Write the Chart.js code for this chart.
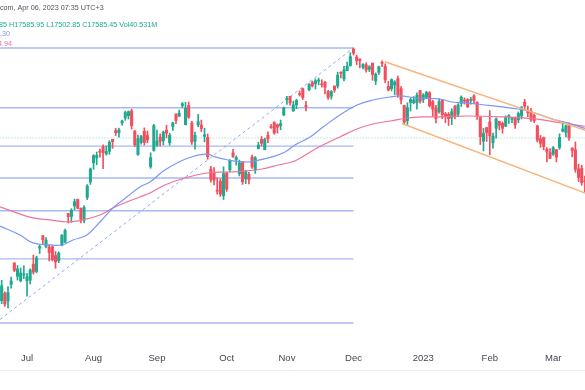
<!DOCTYPE html>
<html><head><meta charset="utf-8">
<script src="https://cdn.jsdelivr.net/npm/chart.js@4.4.0/dist/chart.umd.min.js"></script>
<style>html,body{margin:0;padding:0;background:#fff;overflow:hidden}#wrap{width:585px;height:390px;position:relative}</style>
</head><body><div id="wrap"><canvas id="c" width="585" height="390"></canvas></div>
<script>
// Nifty 50 daily candles, index 0 = 1 Jul 2022 (trading-day index)
const firstIndex = -9;
const opens = [15334,15455,15545,15451,15657,15926,15757,15701,15774,
15703,15710,15909,15818,16113,16273,16136,16127,16131,16018,15954,16151,16187,16562,16523,16662,16749,16631,16475,16774,16983,
17243,17310,17403,17463,17365,17401,17566,17690,17659,17797,17868,17899,17967,17683,17357,17525,17679,17619,17188,17414,
17486,17598,17546,17695,17519,17748,17923,17891,18044,17771,18046,17796,17540,17770,17766,17609,17593,17156,17111,16871,16993,16799,
17102,17147,17379,17287,17094,17256,17026,17087,17323,17144,17438,17568,17423,17622,17736,17808,17771,17756,17910,
18130,18177,17968,18054,18211,18288,18044,18272,18376,18362,18398,18358,18382,18246,18179,18326,18326,18528,18430,18552,18625,
18871,18753,18719,18600,18638,18570,18662,18402,18525,18672,18614,18320,18288,18341,18435,18288,18045,17830,18089,18085,18084,18259,
18131,18163,18230,18101,18009,17953,18121,17925,17920,17867,18033,17922,18075,18120,18131,18118,18183,18094,17877,17541,17731,
17812,17517,17721,17818,17790,17750,17885,17847,17859,17840,17897,18094,17974,17965,17905,17755,17574,17591,17429,17383,
17360,17421,17452,17680,17665,17773,17443,17421,17160,17166,16994];
const highs = [15382,15707,15565,15628,15749,15927,15892,15861,15890,
15793,15852,16025,16011,16150,16275,16248,16158,16140,16070,16066,16288,16360,16563,16626,16753,16752,16636,16667,16947,17172,
17356,17391,17431,17490,17474,17548,17567,17720,17724,17839,17965,17968,17992,17690,17625,17623,17727,17685,17380,17777,
17696,17643,17684,17764,17650,17807,17925,17980,18088,18091,18096,17820,17667,17919,17838,17722,17642,17196,17176,17037,17027,17188,
17114,17287,17428,17337,17280,17261,17142,17112,17348,17328,17527,17607,17584,17670,17777,17811,17783,17838,18023,
18175,18178,18107,18135,18255,18297,18104,18362,18399,18427,18442,18417,18394,18262,18261,18326,18529,18534,18614,18678,18816,
18888,18781,18728,18654,18668,18625,18664,18518,18617,18696,18652,18394,18431,18404,18473,18318,18050,18084,18150,18174,18229,18265,
18215,18251,18243,18120,18047,18141,18128,17944,17945,17999,18049,18072,18183,18155,18142,18162,18201,18096,17884,17721,17736,
17972,17653,17870,17823,17811,17898,17916,17876,17880,17954,18034,18134,18035,18004,17924,17766,17621,17599,17451,17440,
17467,17428,17644,17799,17766,17799,17452,17530,17224,17211,17062];
const lows = [15183,15419,15385,15367,15608,15815,15710,15688,15728,
15511,15661,15785,15800,16045,16157,16115,15950,15950,15858,15928,16143,16187,16439,16447,16611,16623,16439,16438,16746,16949,
17154,17216,17319,17162,17348,17359,17442,17620,17597,17764,17833,17852,17710,17467,17345,17499,17487,17519,17167,17401,
17468,17476,17488,17587,17485,17691,17786,17889,18015,17771,17861,17497,17429,17744,17675,17532,17291,16978,16942,16820,16788,16748,
16855,17117,17315,17210,17064,16950,16960,16956,17165,17098,17434,17472,17421,17520,17718,17637,17654,17701,17899,
18060,18049,17959,18000,18180,18131,17969,18259,18311,18282,18344,18310,18210,18133,18136,18234,18295,18445,18402,18552,18616,
18782,18639,18591,18577,18528,18536,18410,18346,18495,18611,18374,18255,18255,18202,18162,18068,17779,17775,17967,18068,17993,18080,
18087,18149,18020,17892,17796,17936,17856,17800,17761,17774,17853,17886,18032,18064,18016,18063,18078,17846,17494,17406,17537,
17353,17445,17584,17698,17652,17744,17790,17801,17719,17800,17853,18000,17884,17819,17800,17529,17455,17421,17255,17299,
17345,17255,17427,17671,17602,17553,17325,17113,16987,16938,16850];
const closes = [15350,15638,15413,15557,15699,15832,15850,15799,15780,
15752,15835,15810,15990,16133,16221,16216,16058,15967,15938,16049,16279,16341,16521,16606,16719,16631,16484,16642,16930,17158,
17340,17345,17388,17382,17398,17525,17535,17659,17698,17825,17944,17957,17758,17491,17577,17605,17522,17559,17313,17759,
17543,17539,17666,17655,17624,17798,17833,17936,18070,18004,17877,17531,17622,17816,17718,17630,17327,17016,17007,16858,16818,17094,
16887,17274,17331,17315,17241,16984,17124,17014,17186,17312,17486,17512,17564,17576,17731,17656,17737,17787,18012,
18145,18083,18053,18117,18203,18157,18028,18350,18329,18403,18410,18344,18308,18160,18245,18267,18484,18512,18563,18618,18758,
18812,18697,18701,18642,18561,18609,18497,18497,18608,18660,18415,18269,18420,18385,18199,18127,17807,18015,18132,18123,18191,18105,
18197,18233,18043,17992,17859,18101,17914,17896,17858,17956,17895,18053,18165,18108,18027,18119,18118,17892,17604,17649,17662,
17616,17610,17854,17765,17721,17872,17894,17856,17771,17930,18016,18036,17944,17845,17827,17555,17512,17466,17392,17304,
17451,17322,17594,17711,17754,17590,17413,17154,17043,16972,16985];

// Moving averages (trading-day index, value)
const ma50Index  = [-8.5,-2.2,1.9,7.3,11,14.5,18.9,23,27.1,31.5,35.6,38.8,43.5,50.8,56.8,59.3,63.4,68.8,71.9,77.3,81.4,84.5,89.3,93.4,98.7,104.1,109.1,114.5,117.7,123,130.3,134.1,139.1,144.5,149.8,154.9,160.3,165.6,170.7,176];
const ma50Values = [16399,16282,16180,16154,16154,16218,16282,16451,16635,16781,16915,16982,17145,17309,17364,17323,17281,17254,17268,17323,17391,17488,17600,17740,17910,18052,18124,18167,18182,18153,18138,18095,18080,18052,18024,17995,17938,17853,17796,17720];
const ma100Index  = [-8.5,-3.2,1.9,7.3,12.6,17.7,23,27.1,31.5,35.6,38.8,43.5,49.8,56.8,63.4,68.8,74.1,79.2,84.5,91.5,98.7,104.1,109.1,114.5,119.9,124.9,130.3,139.1,149.8,160.3,168.8,176];
const ma100Values = [16649,16570,16504,16478,16451,16478,16543,16635,16715,16781,16834,16942,17036,17104,17117,17131,17158,17213,17268,17447,17600,17712,17782,17824,17867,17882,17882,17895,17882,17853,17796,17750];

// Fibonacci retracement drawn from the June low to the December high
const fibLow = 15183.6, fibHigh = 18887.6;
const fibStartIndex = -10, fibEndIndex = 103;
const fibRatios = [0, 0.236, 0.382, 0.5, 0.618, 0.786, 1];

// Falling trend lines (orange)
const upperLineIndex = [112.9, 176.5], upperLineValues = [18683, 17688];
const lowerLineIndex = [118.3, 176.5], lowerLineValues = [17789, 16826];

const lastPrice = 17585.45;

const monthTickIndex  = [0, 21, 41, 63, 82, 103, 125, 146, 166];
const monthTickLabels = ['Jul','Aug','Sep','Oct','Nov','Dec','2023','Feb','Mar'];

const UP = '#1fa98f', DOWN = '#f44d5b';
const candleColors = closes.map((c,i) => c >= opens[i] ? UP : DOWN);

const datasets = [];
fibRatios.forEach(r => {
  const v = fibHigh - r * (fibHigh - fibLow);
  datasets.push({type:'line', data:[{x:fibStartIndex,y:v},{x:fibEndIndex,y:v}], borderColor:'rgba(130,155,242,0.7)', borderWidth:1.4, pointRadius:0, order:9});
});
datasets.push({type:'line', data:[{x:fibStartIndex,y:fibLow},{x:fibEndIndex,y:fibHigh}], borderColor:'rgba(120,145,240,0.8)', borderWidth:1, borderDash:[3,3], pointRadius:0, order:8});
datasets.push({type:'line', data:[{x:-20,y:lastPrice},{x:200,y:lastPrice}], borderColor:'rgba(34,171,148,0.5)', borderWidth:1, borderDash:[1,2], pointRadius:0, order:8});
datasets.push({type:'bar', data: lows.map((l,i)=>({x:firstIndex+i, y:[l, highs[i]]})), backgroundColor:candleColors, barThickness:1, grouped:false, borderWidth:0, order:5});
datasets.push({type:'bar', data: opens.map((o,i)=>({x:firstIndex+i, y:[o, closes[i]]})), backgroundColor:candleColors, barThickness:2.4, minBarLength:1, grouped:false, borderWidth:0, order:4});
datasets.push({type:'line', data: ma50Index.map((x,i)=>({x, y:ma50Values[i]})), borderColor:'#7b97f3', borderWidth:1.2, pointRadius:0, tension:0.4, order:3});
datasets.push({type:'line', data: ma100Index.map((x,i)=>({x, y:ma100Values[i]})), borderColor:'#ef7397', borderWidth:1.2, pointRadius:0, tension:0.4, order:3});
datasets.push({type:'line', data: upperLineIndex.map((x,i)=>({x, y:upperLineValues[i]})), borderColor:'#f8b47c', borderWidth:1.4, pointRadius:0, order:1});
datasets.push({type:'line', data: lowerLineIndex.map((x,i)=>({x, y:lowerLineValues[i]})), borderColor:'#f8b47c', borderWidth:1.4, pointRadius:0, order:1});

const headerPlugin = {
  id:'header',
  afterDraw(chart){
    const ctx = chart.ctx;
    ctx.save();
    ctx.textBaseline = 'middle';
    ctx.font = '7.2px "Liberation Sans", Arial, sans-serif';
    ctx.fillStyle = '#50535e';
    ctx.fillText('com, Apr 06, 2023 07:35 UTC+3', 0, 8.5);
    ctx.fillStyle = '#1fa98f';
    ctx.fillText('85 H17585.95 L17502.85 C17585.45 Vol40.531M', -1, 25);
    ctx.fillStyle = '#7b97f3';
    ctx.fillText('.30', 0, 34.5);
    ctx.fillStyle = '#ef7397';
    ctx.fillText('4.94', -2, 44);
    ctx.strokeStyle = '#eceef2';
    ctx.lineWidth = 1;
    ctx.beginPath(); ctx.moveTo(0, 370.5); ctx.lineTo(585, 370.5); ctx.stroke();
    ctx.restore();
  }
};

new Chart(document.getElementById('c'), {
  type:'bar',
  data:{datasets},
  options:{
    responsive:false, animation:false,
    layout:{padding:0},
    plugins:{legend:{display:false}, tooltip:{enabled:false}},
    scales:{
      x:{type:'linear', min:-8.52, max:176.03, offset:false, bounds:'data',
         grid:{display:false, drawTicks:false}, border:{display:false},
         afterBuildTicks(scale){ scale.ticks = monthTickIndex.map(v=>({value:v})); },
         afterFit(scale){ scale.height = 45; },
         ticks:{autoSkip:false, maxRotation:0, padding:8, color:'#434651',
           font:{family:'"Liberation Sans", Arial, sans-serif', size:9.5},
           callback:(v)=>{ const k = monthTickIndex.indexOf(v); return k>=0 ? monthTickLabels[k] : ''; }}},
      y:{type:'logarithmic', display:false, min:14921, max:19621, bounds:'data'}
    }
  },
  plugins:[headerPlugin]
});
</script></body></html>
